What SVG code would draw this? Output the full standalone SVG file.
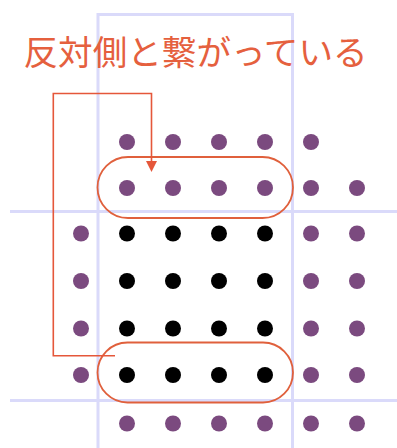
<svg xmlns="http://www.w3.org/2000/svg" width="397" height="448" viewBox="0 0 397 448">
<style>
.grid{stroke:#dadafa;stroke-width:3;fill:none}
.p{fill:#7b4a7f}
.b{fill:#000}
.red{stroke:#e5573a;stroke-width:1.6;fill:none}
.loop{stroke:#e0603c;stroke-width:1.8;fill:none}
.lbl{font-family:"Noto Sans CJK JP","Noto Sans",sans-serif;font-size:34.6px;fill:#e5603e}
</style>
<rect fill="#fff" width="397" height="448"/>
<g id="grid">
<path class="grid" d="M98 448 V14.5 H292.5 V448"/>
<path class="grid" d="M10 211.5 H397 M10 400.5 H397"/>
</g>
<g id="dots">
<g class="p">
<circle cx="127" cy="142" r="8"/><circle cx="173" cy="142" r="8"/><circle cx="219" cy="142" r="8"/><circle cx="265" cy="142" r="8"/><circle cx="311" cy="142" r="8"/>
<circle cx="127" cy="188" r="8"/><circle cx="173" cy="188" r="8"/><circle cx="219" cy="188" r="8"/><circle cx="265" cy="188" r="8"/><circle cx="311" cy="188" r="8"/><circle cx="357" cy="188" r="8"/>
<circle cx="81" cy="233.5" r="8"/><circle cx="311" cy="233.5" r="8"/><circle cx="357" cy="233.5" r="8"/>
<circle cx="81" cy="281" r="8"/><circle cx="311" cy="281" r="8"/><circle cx="357" cy="281" r="8"/>
<circle cx="81" cy="328.5" r="8"/><circle cx="311" cy="328.5" r="8"/><circle cx="357" cy="328.5" r="8"/>
<circle cx="81" cy="375" r="8"/><circle cx="311" cy="375" r="8"/><circle cx="357" cy="375" r="8"/>
<circle cx="127" cy="423.5" r="8"/><circle cx="173" cy="423.5" r="8"/><circle cx="219" cy="423.5" r="8"/><circle cx="265" cy="423.5" r="8"/><circle cx="311" cy="423.5" r="8"/><circle cx="357" cy="423.5" r="8"/>
</g>
<g class="b">
<circle cx="127" cy="233.5" r="8"/><circle cx="173" cy="233.5" r="8"/><circle cx="219" cy="233.5" r="8"/><circle cx="265" cy="233.5" r="8"/>
<circle cx="127" cy="281" r="8"/><circle cx="173" cy="281" r="8"/><circle cx="219" cy="281" r="8"/><circle cx="265" cy="281" r="8"/>
<circle cx="127" cy="328.5" r="8"/><circle cx="173" cy="328.5" r="8"/><circle cx="219" cy="328.5" r="8"/><circle cx="265" cy="328.5" r="8"/>
<circle cx="127" cy="375" r="8"/><circle cx="173" cy="375" r="8"/><circle cx="219" cy="375" r="8"/><circle cx="265" cy="375" r="8"/>
</g>
</g>
<g id="top-loop"><rect class="loop" x="97.5" y="157" width="195.5" height="61" rx="30.5"/></g>
<g id="bottom-loop"><rect class="loop" x="97.5" y="342.5" width="195.5" height="60" rx="30"/></g>
<g id="connectors">
<path class="red" d="M115 355.7 H53.3 V93.5 H151.5 V163"/>
<polygon fill="#e5573a" points="146,161 157,161 151.5,172"/>
</g>
<g id="label"><text class="lbl" x="23.5" y="64.5">反対側と繋がっている</text></g>
</svg>
